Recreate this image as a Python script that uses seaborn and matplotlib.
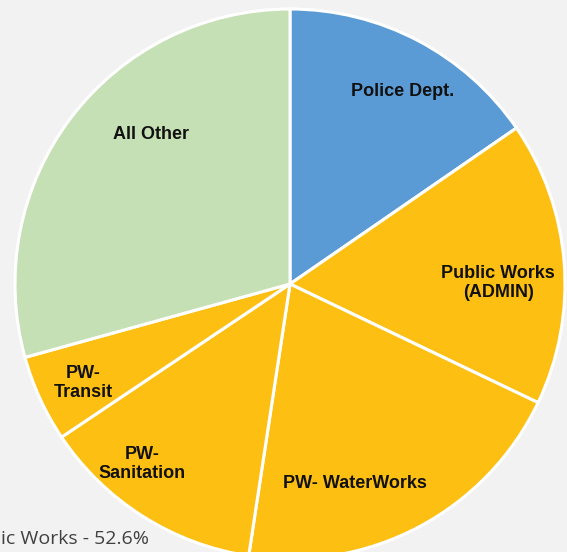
import matplotlib
matplotlib.use("Agg")
import matplotlib.pyplot as plt
import seaborn as sns

categories = ["Police Dept.", "Public Works\n(ADMIN)", "PW- WaterWorks", "PW-\nSanitation", "PW-\nTransit", "All Other"]
shares = [15.4, 16.7, 20.3, 13.2, 5.1, 29.3]
colors = ["#5B9BD5", "#FDBF12", "#FDBF12", "#FDBF12", "#FDBF12", "#C5E0B4"]
label_xy = [(0.41, 0.70), (0.757, 0.004), (0.236, -0.727), (-0.538, -0.655), (-0.753, -0.36), (-0.505, 0.544)]
footer = "ic Works - 52.6%"

sns.set_theme(style="white")
plt.rcParams['font.family'] = ['Liberation Sans', 'DejaVu Sans']

fig = plt.figure(figsize=(5.67, 5.52), dpi=100)
fig.patch.set_facecolor("#F2F2F2")
ax = fig.add_axes([0, 0, 1, 1])
ax.set_facecolor("#F2F2F2")

ax.pie(shares, colors=colors, startangle=90, counterclock=False, radius=1,
       wedgeprops=dict(edgecolor="white", linewidth=2.2))

for lab, (x, y) in zip(categories, label_xy):
    ax.text(x, y, lab, ha="center", va="center", fontsize=13, fontweight="bold",
            color="#111111", linespacing=1.15)

ax.set_xlim(-290 / 275, 277 / 275)
ax.set_ylim(-268 / 275, 284 / 275)
ax.set_aspect("equal")
ax.axis("off")

fig.text(1 / 567, 4 / 552, footer, ha="left", va="bottom", fontsize=14,
         color="#404040", family=["Open Sans", "DejaVu Sans"])

fig.savefig("out.png", dpi=100, facecolor=fig.get_facecolor())
